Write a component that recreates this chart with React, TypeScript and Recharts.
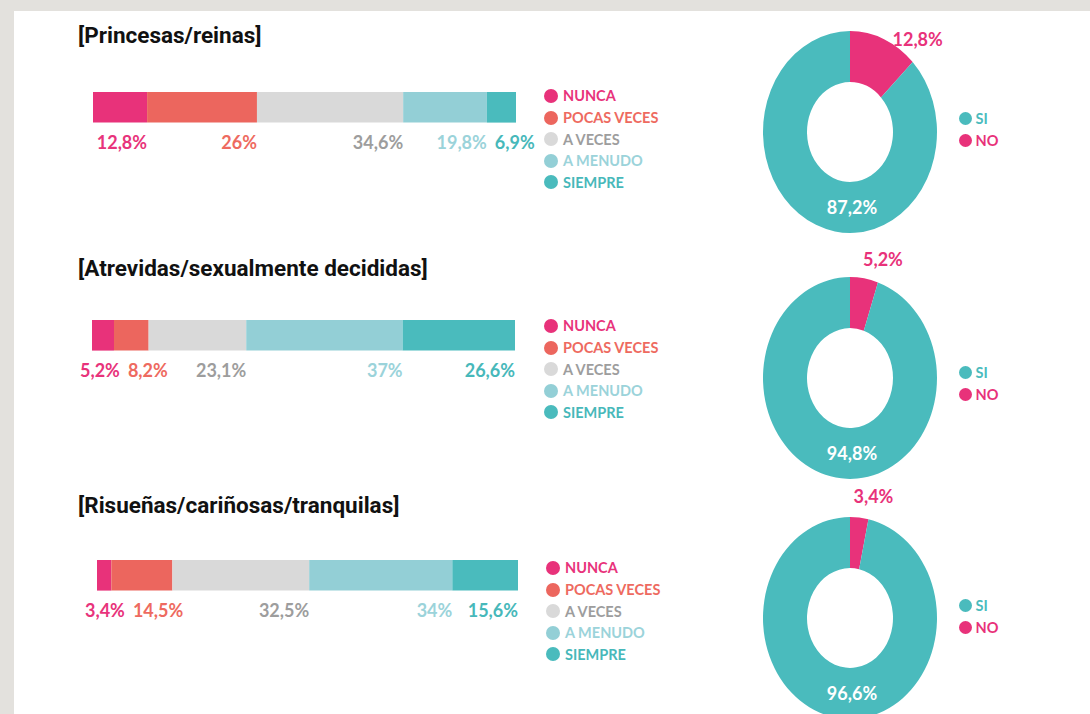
import React from 'react';
import { BarChart, Bar, XAxis, YAxis, LabelList, Legend, PieChart, Pie, Cell } from 'recharts';

// answer categories (bar legend order)
const categories = ['NUNCA', 'POCAS VECES', 'A VECES', 'A MENUDO', 'SIEMPRE'];
const rowTitles = ['[Princesas/reinas]', '[Atrevidas/sexualmente decididas]', '[Risueñas/cariñosas/tranquilas]'];

// percentages per row
const nunca = [12.8, 5.2, 3.4];
const pocasVeces = [26, 8.2, 14.5];
const aVeces = [34.6, 23.1, 32.5];
const aMenudo = [19.8, 37, 34];
const siempre = [6.9, 26.6, 15.6];

const pieNames = ['NO', 'SI'];
const noValues = [12.8, 5.2, 3.4];
const siValues = [87.2, 94.8, 96.6];

const seriesKeys = ['nunca', 'pocas', 'aveces', 'amenudo', 'siempre'];
const seriesValues = [nunca, pocasVeces, aVeces, aMenudo, siempre];

const barFill = ['#e8327a', '#ec665e', '#d9d9d9', '#93cfd6', '#4abbbd'];
const textFill = ['#e8337b', '#ee6a60', '#9d9d9d', '#9bd3da', '#47b8ba'];
const PINK = '#e8327a';
const TEAL = '#4abbbd';

const NUM_FONT = 'Lato, "Open Sans", sans-serif';
const NUM_SIZE = 18;

// layout per row
const titleY = [35, 268, 505];
const barTop = [90, 318, 558];
const barLeft = [93, 92, 97];
const barW = [423, 423, 421];
const legendTop = [96, 326, 568];
const legendX = [551, 551, 553];
const pieCy = [132, 378, 618];
const pieLegendY = [118, 372, 605];

const K = 1.16; // donut vertical stretch
const RAD = Math.PI / 180;

let ctx: CanvasRenderingContext2D | null = null;
function textWidth(t: string) {
  if (!ctx) ctx = document.createElement('canvas').getContext('2d');
  if (!ctx) return t.length * 10;
  ctx.font = `700 ${NUM_SIZE}px ${NUM_FONT}`;
  return ctx.measureText(t).width;
}

const fmt = (v: number) => `${String(v).replace('.', ',')}%`;

function rowData(r: number) {
  const d: any = { name: rowTitles[r] };
  seriesKeys.forEach((k, i) => (d[k] = seriesValues[i][r]));
  return [d];
}

// labels hang under the end of their segment, pushed right when they would collide
function makeBarLabel(r: number, s: number) {
  return (props: any) => {
    const { x, y, width, height, value } = props;
    const vals = seriesValues.map((a) => a[r]);
    const px = width / value;
    let cum = 0;
    for (let i = 0; i < s; i++) cum += vals[i];
    const x0 = x - cum * px;
    let prev = -Infinity;
    let end = 0;
    let acc = 0;
    for (let i = 0; i <= s; i++) {
      acc += vals[i];
      const segEnd = x0 + acc * px;
      const w = textWidth(fmt(vals[i]));
      end = i === 0 ? Math.max(segEnd, x0 + w * 0.7) : Math.max(segEnd, prev + 8 + w);
      prev = end;
    }
    return (
      <text x={end} y={y + height + 19} textAnchor="end" dominantBaseline="central"
        fill={textFill[s]} fontFamily={NUM_FONT} fontWeight={700} fontSize={NUM_SIZE}>
        {fmt(value)}
      </text>
    );
  };
}

function BarLegend({ payload }: any) {
  const items = [...(payload || [])].sort((a: any, b: any) => categories.indexOf(a.value) - categories.indexOf(b.value));
  return (
    <div>
      {items.map((p: any) => {
        const i = categories.indexOf(p.value);
        return (
          <div key={p.value} style={{ display: 'flex', alignItems: 'center', height: 21.6 }}>
            <span style={{ width: 14, height: 14, borderRadius: 7, background: barFill[i], marginRight: 5 }} />
            <span style={{ color: textFill[i], fontFamily: NUM_FONT, fontWeight: 700, fontSize: 14.5 }}>{p.value}</span>
          </div>
        );
      })}
    </div>
  );
}

function PieLegend({ payload }: any) {
  const items = [...(payload || [])].sort((a: any) => (a.value === 'SI' ? -1 : 1));
  return (
    <div>
      {items.map((p: any) => (
        <div key={p.value} style={{ display: 'flex', alignItems: 'center', height: 22 }}>
          <span style={{ width: 13, height: 13, borderRadius: 7, background: p.value === 'SI' ? TEAL : PINK, marginRight: 4 }} />
          <span style={{ color: p.value === 'SI' ? TEAL : PINK, fontFamily: NUM_FONT, fontWeight: 700, fontSize: 14.5 }}>{p.value}</span>
        </div>
      ))}
    </div>
  );
}

function ellipseSector(props: any) {
  const { cx, cy, innerRadius: ri, outerRadius: ro, startAngle, endAngle, fill } = props;
  const pt = (r: number, a: number) => [cx + r * Math.cos(-a * RAD), cy + r * K * Math.sin(-a * RAD)];
  const [x1, y1] = pt(ro, startAngle);
  const [x2, y2] = pt(ro, endAngle);
  const [x3, y3] = pt(ri, endAngle);
  const [x4, y4] = pt(ri, startAngle);
  const large = Math.abs(endAngle - startAngle) > 180 ? 1 : 0;
  const d = `M${x1},${y1} A${ro},${ro * K} 0 ${large} 1 ${x2},${y2} L${x3},${y3} A${ri},${ri * K} 0 ${large} 0 ${x4},${y4} Z`;
  return <path d={d} fill={fill} stroke="none" />;
}

function pieLabel(props: any) {
  const { cx, cy, innerRadius, outerRadius, endAngle, value, name } = props;
  if (name === 'SI') {
    const r = (innerRadius + outerRadius) / 2;
    return (
      <text x={cx + 2} y={cy + r * K} textAnchor="middle" dominantBaseline="central"
        fill="#ffffff" fontFamily={NUM_FONT} fontWeight={700} fontSize={NUM_SIZE}>
        {fmt(value)}
      </text>
    );
  }
  const ex = cx + outerRadius * Math.cos(-endAngle * RAD);
  const ey = cy + outerRadius * K * Math.sin(-endAngle * RAD);
  return (
    <text x={ex + 5} y={ey - 23} textAnchor="middle" dominantBaseline="central"
      fill={PINK} fontFamily={NUM_FONT} fontWeight={700} fontSize={NUM_SIZE}>
      {fmt(value)}
    </text>
  );
}

function Row({ r }: { r: number }) {
  const chartTop = barTop[r] - 20;
  const chartW = 700;
  const chartH = 140;
  const PIE_OFF = 150;
  const pieTop = pieCy[r] - PIE_OFF;
  const pieData = [
    { name: pieNames[0], value: noValues[r] },
    { name: pieNames[1], value: siValues[r] },
  ];
  return (
    <>
      <div style={{ position: 'absolute', left: 78, top: titleY[r] - 15, fontFamily: 'Roboto, sans-serif', fontWeight: 700, fontSize: 22.5, color: '#111', lineHeight: '30px', whiteSpace: 'nowrap' }}>
        {rowTitles[r]}
      </div>
      <div style={{ position: 'absolute', left: 0, top: chartTop }}>
        <BarChart width={chartW} height={chartH} data={rowData(r)} layout="vertical" barCategoryGap={0}
          margin={{ top: 20, left: barLeft[r], right: chartW - barLeft[r] - barW[r], bottom: chartH - 20 - 34 }}>
          <XAxis type="number" hide domain={[0, 'dataMax']} />
          <YAxis type="category" dataKey="name" hide />
          <Legend layout="vertical" align="center" verticalAlign="middle" content={<BarLegend />}
            wrapperStyle={{ position: 'absolute', left: legendX[r] - 7, top: legendTop[r] - chartTop - 10.8, width: 160, height: 110 }} />
          {seriesKeys.map((k, s) => (
            <Bar key={k} dataKey={k} name={categories[s]} stackId="a" fill={barFill[s]} barSize={34} isAnimationActive={false}>
              <LabelList dataKey={k} content={makeBarLabel(r, s)} />
            </Bar>
          ))}
        </BarChart>
      </div>
      <div style={{ position: 'absolute', left: 700, top: pieTop }}>
        <PieChart width={390} height={300} margin={{ top: 0, left: 0, right: 0, bottom: 0 }}>
          <Pie data={pieData} dataKey="value" nameKey="name" cx={150} cy={PIE_OFF} innerRadius={43} outerRadius={87}
            startAngle={90} endAngle={-270} stroke="none" shape={ellipseSector} label={pieLabel} labelLine={false}
            isAnimationActive={false}>
            {pieData.map((d) => (
              <Cell key={d.name} fill={d.name === 'SI' ? TEAL : PINK} />
            ))}
          </Pie>
          <Legend layout="vertical" align="center" verticalAlign="middle" content={<PieLegend />}
            wrapperStyle={{ position: 'absolute', left: 958.5 - 700, top: pieLegendY[r] - pieTop - 11, width: 80, height: 50 }} />
        </PieChart>
      </div>
    </>
  );
}

export default function App() {
  return (
    <div style={{ position: 'fixed', left: 0, top: 0, width: 1090, height: 714, overflow: 'hidden', background: '#e3e1dd' }}>
      <div style={{ position: 'absolute', left: 14, top: 11, right: 0, bottom: 0, background: '#ffffff' }} />
      {[0, 1, 2].map((r) => (
        <Row key={r} r={r} />
      ))}
    </div>
  );
}
